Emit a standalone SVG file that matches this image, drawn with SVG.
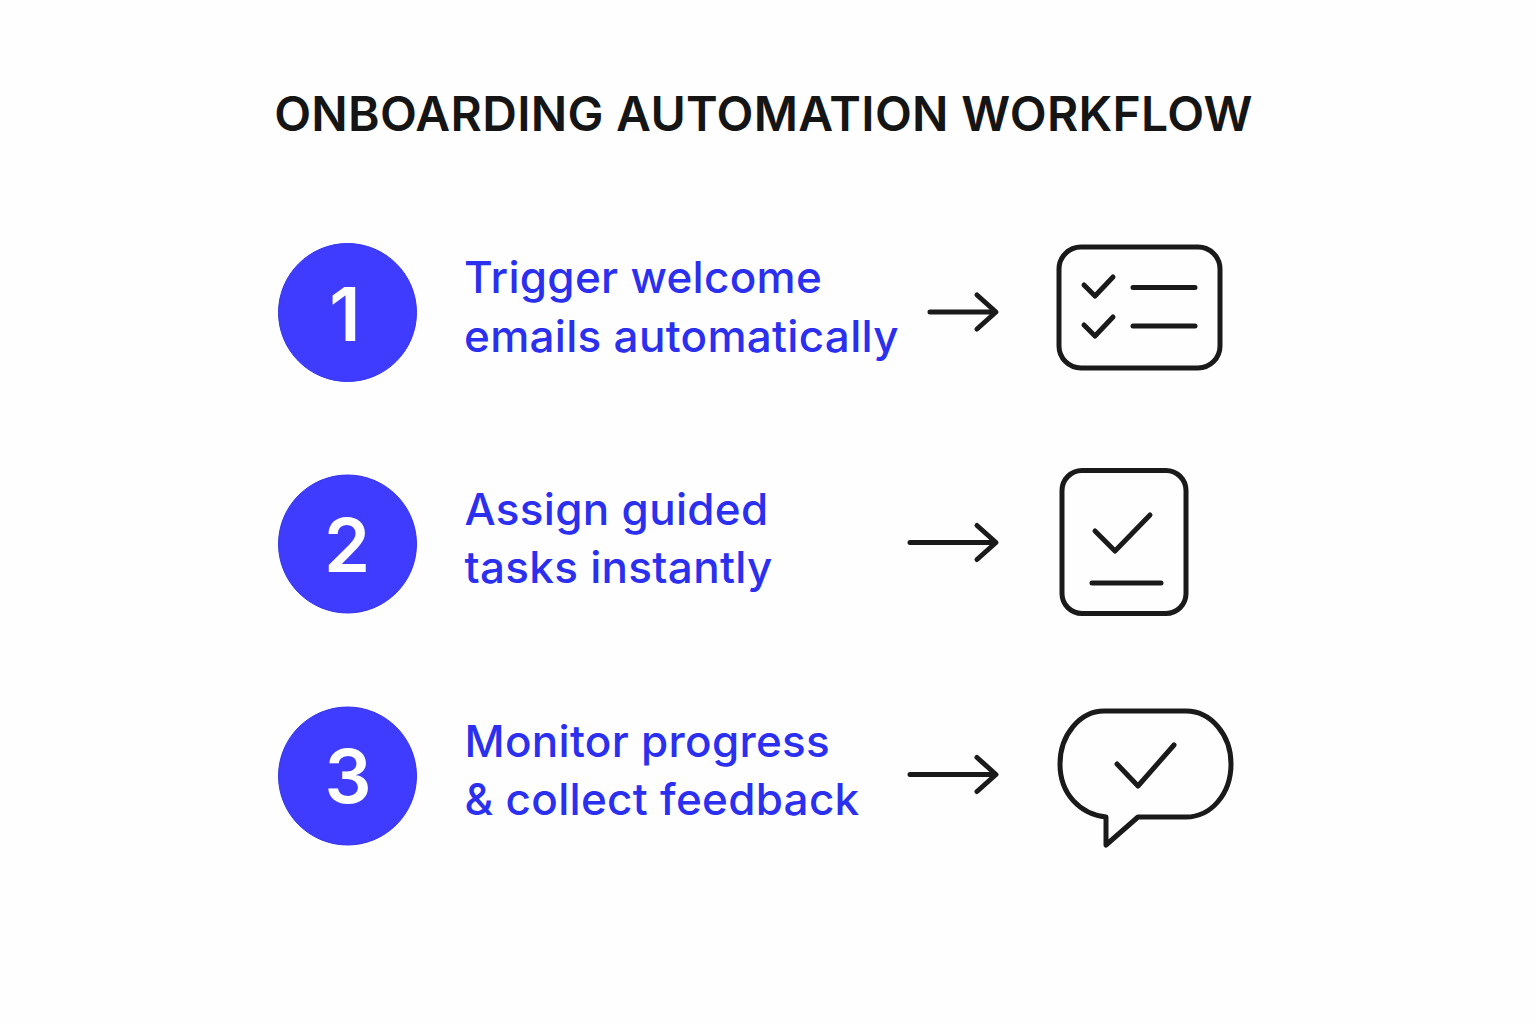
<svg xmlns="http://www.w3.org/2000/svg" width="1536" height="1024" viewBox="0 0 1536 1024">
<style>
.t{font-family:Inter,"Liberation Sans",sans-serif;font-size:44px;font-weight:500;fill:#2b2ff0;letter-spacing:.3px}
.n{font-family:Inter,"Liberation Sans",sans-serif;font-size:74px;font-weight:600;fill:#fff;text-anchor:middle}
.c{fill:#3f3cff;stroke:#3434ee;stroke-width:1}
.i{fill:none;stroke:#1a1a1a;stroke-width:5;stroke-linecap:round;stroke-linejoin:round}
</style>
<rect width="1536" height="1024" fill="#fefefe"/>
<text x="763.500" y="131" text-anchor="middle" style="font-family:Inter,'Liberation Sans',sans-serif;font-size:48px;font-weight:600;fill:#151515;letter-spacing:.3px">ONBOARDING AUTOMATION WORKFLOW</text>
<g id="step1"><circle class="c" cx="347.500" cy="312.500" r="69"/><text class="n" x="345" y="341">1</text><text class="t" x="464" y="293">Trigger welcome</text><text class="t" x="464" y="352">emails automatically</text></g>
<g id="step2"><circle class="c" cx="347.500" cy="544" r="69"/><text class="n" x="347" y="572">2</text><text class="t" x="464.500" y="525">Assign guided</text><text class="t" x="464.500" y="583">tasks instantly</text></g>
<g id="step3"><circle class="c" cx="347.500" cy="776" r="69"/><text class="n" x="348" y="803">3</text><text class="t" x="464.500" y="757">Monitor progress</text><text class="t" x="464.500" y="815">&amp; collect feedback</text></g>
<g id="connectors" class="i"><path d="M930 312H995M977 295L996 312L977 329"/><path d="M910 542.500H995M977 525.500L996 542.500L977 559.500"/><path d="M910 774.500H995M977 757.500L996 774.500L977 791.500"/></g>
<g id="icon1" class="i"><rect x="1059" y="247" width="161" height="121" rx="22"/><path d="M1084 285L1095 296L1113 277M1084 325L1095 336L1113 317M1133 287.500H1195M1133 326H1195"/></g>
<g id="icon2" class="i"><rect x="1062" y="470.500" width="124" height="143" rx="20"/><path d="M1095 531L1115 551L1150 515M1092 583H1161"/></g>
<g id="icon3" class="i"><path d="M1104 711H1186C1211 711 1231 735 1231 764C1231 794 1211 817 1186 817H1138L1106 845V817C1080 814 1060 794 1060 764C1060 735 1080 711 1104 711Z"/><path d="M1117 764L1138 786L1174 745"/></g>
</svg>
